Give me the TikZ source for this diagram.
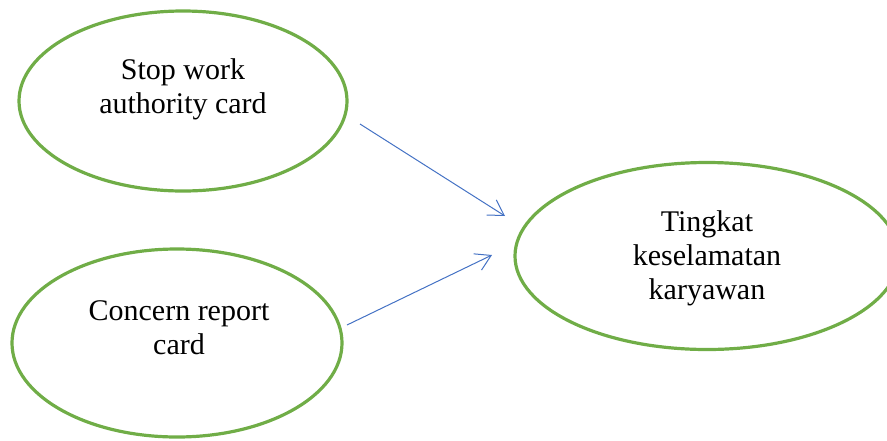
\documentclass[tikz,border=0pt]{standalone}
\usepackage{fontspec}
\setmainfont{Liberation Serif}
\usetikzlibrary{arrows.meta,shapes.geometric}
\definecolor{ellgreen}{HTML}{70AD47}
\definecolor{arrblue}{HTML}{4472C4}
\begin{document}
\begin{tikzpicture}[x=1pt,y=-1pt,
  ell/.style={draw=ellgreen, line width=3.2pt, ellipse, inner sep=0pt},
  lbl/.style={align=center, font=\fontsize{30}{34}\selectfont, inner sep=0pt},
  conn/.style={draw=arrblue, line width=1pt, -{Straight Barb[length=15pt,width=18pt]}}]
\useasboundingbox (0,0) rectangle (887,440);
\node[ell, minimum width=328pt, minimum height=180pt] (e1) at (183,101) {};
\node[ell, minimum width=330pt, minimum height=188pt] (e2) at (177,343) {};
\node[ell, minimum width=384pt, minimum height=187pt] (e3) at (707,256) {};
\node[lbl] (t1) at (183,89) {Stop work\\authority card};
\node[lbl] (t2) at (179,328) {Concern report\\card};
\node[lbl] (t3) at (707,258) {Tingkat\\keselamatan\\karyawan};
\coordinate (a1s) at (360,124);
\coordinate (a1e) at (505,216);
\coordinate (a2s) at (347,325);
\coordinate (a2e) at (492,255);
\draw[conn] (a1s) -- (a1e);
\draw[conn] (a2s) -- (a2e);
\end{tikzpicture}
\end{document}
